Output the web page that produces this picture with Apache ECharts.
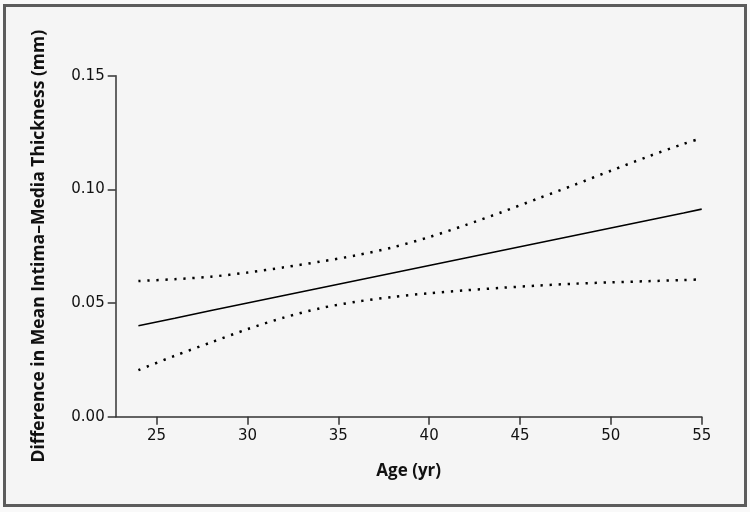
<!DOCTYPE html>
<html>
<head>
<meta charset="utf-8">
<script src="https://cdn.jsdelivr.net/npm/echarts@6/dist/echarts.min.js"></script>
<style>
  html, body { margin: 0; padding: 0; background: #f9f9f9; }
  #frame { position: absolute; left: 3px; top: 4px; width: 738px; height: 497px; border: 3px solid #5c5c5c; background: #f5f5f5; }
  #chart { position: absolute; left: 0; top: 0; width: 750px; height: 512px; }
</style>
</head>
<body>
<div id="frame"></div>
<div id="chart"></div>
<script>
// Data
const ages      = [24, 26, 28, 30, 32, 34, 36, 38, 40, 42, 44, 46, 48, 50, 52, 54, 55];
const estimate  = [0.0400, 0.0433, 0.0467, 0.0500, 0.0533, 0.0566, 0.0599, 0.0632, 0.0665, 0.0698, 0.0731, 0.0764, 0.0797, 0.0830, 0.0863, 0.0896, 0.0913];
const upperCI   = [0.0597, 0.0605, 0.0616, 0.0634, 0.0657, 0.0682, 0.0710, 0.0745, 0.0790, 0.0843, 0.0900, 0.0960, 0.1020, 0.1082, 0.1143, 0.1200, 0.1225];
const lowerCI   = [0.0205, 0.0268, 0.0327, 0.0385, 0.0436, 0.0477, 0.0506, 0.0527, 0.0543, 0.0556, 0.0567, 0.0577, 0.0585, 0.0591, 0.0596, 0.0601, 0.0604];
const xTicks    = [25, 30, 35, 40, 45, 50, 55];
const yTicks    = [0.00, 0.05, 0.10, 0.15];
const xTitle    = 'Age (yr)';
const yTitle    = 'Difference in Mean Intima\u2013Media Thickness (mm)';

const pairs = (ys) => ages.map((a, i) => [a, ys[i]]);
const axisColor = '#333';
const tickFont = { fontFamily: 'DejaVu Sans', fontSize: 15, color: '#111' };
const titleFont = { fontFamily: 'Open Sans', fontWeight: 'bold', fontSize: 17.5, color: '#111' };

const chart = echarts.init(document.getElementById('chart'), null, { renderer: 'canvas' });
chart.setOption({
  backgroundColor: 'transparent',
  animation: false,
  grid: { left: 115.7, right: 48.3, top: 75.7, bottom: 95.3, containLabel: false },
  xAxis: {
    type: 'value', min: 22.75, max: 55,
    name: xTitle, nameLocation: 'middle', nameGap: 46, nameTextStyle: { ...titleFont, fontSize: 17 },
    axisLine: { show: true, lineStyle: { color: axisColor, width: 1.5 } },
    axisTick: { show: true, customValues: xTicks, length: 8, lineStyle: { color: axisColor, width: 1.5 } },
    axisLabel: { show: true, customValues: xTicks, margin: 12, ...tickFont },
    splitLine: { show: false }
  },
  yAxis: {
    type: 'value', min: 0, max: 0.15,
    name: yTitle, nameLocation: 'middle', nameGap: 68, nameRotate: 90, nameTextStyle: titleFont,
    axisLine: { show: true, lineStyle: { color: axisColor, width: 1.5 } },
    axisTick: { show: true, customValues: yTicks, length: 8, lineStyle: { color: axisColor, width: 1.5 } },
    axisLabel: { show: true, customValues: yTicks, margin: 11, formatter: v => v.toFixed(2), ...tickFont },
    splitLine: { show: false }
  },
  series: [
    { type: 'line', data: pairs(estimate), showSymbol: false, smooth: false,
      lineStyle: { color: '#000', width: 1.6 } },
    { type: 'line', data: pairs(upperCI), showSymbol: false, smooth: 0.3,
      lineStyle: { color: '#000', width: 2.5, type: [2.3, 6.7], cap: 'butt' } },
    { type: 'line', data: pairs(lowerCI), showSymbol: false, smooth: 0.3,
      lineStyle: { color: '#000', width: 2.5, type: [2.3, 6.7], cap: 'butt' } }
  ]
});
</script>
</body>
</html>
